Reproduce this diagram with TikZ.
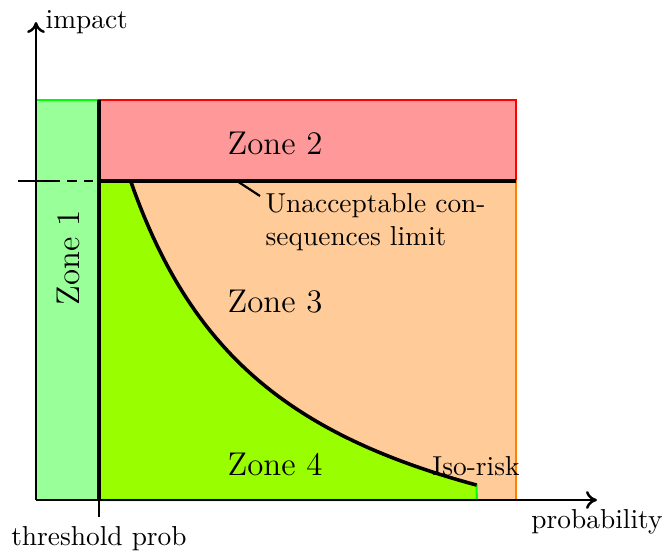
\documentclass[tikz,border=0pt]{standalone}
\usetikzlibrary{arrows.meta}
\definecolor{zoneonefill}{RGB}{153,255,153}
\definecolor{zonetwofill}{RGB}{255,153,153}
\definecolor{zonethreefill}{RGB}{255,204,153}
\definecolor{zonefourfill}{RGB}{153,255,0}
\definecolor{zonegreen}{RGB}{0,255,0}
\definecolor{zonered}{RGB}{255,0,0}
\definecolor{zoneorange}{RGB}{255,128,0}
\tikzset{
  zoneborder/.style={line width=0.8pt},
  heavyline/.style={line width=1.3pt},
  tickline/.style={line width=0.7pt},
  axisline/.style={line width=0.9pt,-{To[length=4pt,width=6.5pt]}},
  zonelabel/.style={font=\large},
}
\begin{document}
\begin{tikzpicture}[x=36.5pt,y=36.5pt]
\useasboundingbox (-0.36,-0.52) rectangle (6.29,5.00);
% zones
\fill[zoneonefill] (0,0) rectangle (0.63,4.00);
\draw[zoneborder,zonegreen] (0,4.00) -- (0.63,4.00);
\filldraw[zoneborder,draw=zonered,fill=zonetwofill] (0.63,3.19) rectangle (4.80,4.00);
\filldraw[zoneborder,draw=zoneorange,fill=zonethreefill] (0.63,0) rectangle (4.80,3.19);
\filldraw[zoneborder,draw=zonegreen,fill=zonefourfill] (0.63,0) -- (0.63,3.19) --
  plot[domain=0.945:4.407,samples=80,smooth] (\x,{6.7406/(\x+0.589)-1.2}) -- (4.407,0) -- cycle;
% iso-risk curve
\draw[heavyline] plot[domain=0.945:4.407,samples=80,smooth] (\x,{6.7406/(\x+0.589)-1.2});
% limit line
\coordinate (limL) at (-0.18,3.19);
\coordinate (limD) at (0.58,3.19);
\coordinate (limM) at (0.63,3.19);
\coordinate (limR) at (4.80,3.19);
\draw[tickline,dash pattern=on 15.3pt off 2.6pt on 3.5pt off 2.6pt on 3.5pt off 5pt] (limL) -- (limD);
\draw[heavyline] (limM) -- (limR);
% threshold line
\coordinate (thrTop) at (0.63,4.00);
\coordinate (thrAx) at (0.63,0);
\coordinate (thrBot) at (0.63,-0.17);
\draw[heavyline] (thrTop) -- (thrAx);
\draw[tickline] (thrAx) -- (thrBot);
% axes
\coordinate (O) at (0,0);
\coordinate (xtip) at (5.61,0);
\coordinate (ytip) at (0,4.78);
\draw[axisline] (O) -- (xtip);
\draw[axisline] (O) -- (ytip);
% labels
\node[right] (impact) at (ytip) {impact};
\node[below] (prob) at (xtip) {probability};
\node[below] (thr) at (thrBot) {threshold prob};
\node[zonelabel,rotate=90] (z1) at (0.32,2.42) {Zone 1};
\node[zonelabel] (z2) at (2.39,3.57) {Zone 2};
\node[zonelabel] (z3) at (2.39,1.98) {Zone 3};
\node[zonelabel] (z4) at (2.39,0.36) {Zone 4};
\node (iso) at (4.40,0.34) {Iso-risk};
\node[anchor=north west,align=left] (unacc) at (2.20,3.16) {Unacceptable con-\\sequences limit};
\coordinate (pinA) at (2.01,3.19);
\coordinate (pinB) at (2.24,3.04);
\draw[line width=0.8pt] (pinA) -- (pinB);
\end{tikzpicture}
\end{document}
